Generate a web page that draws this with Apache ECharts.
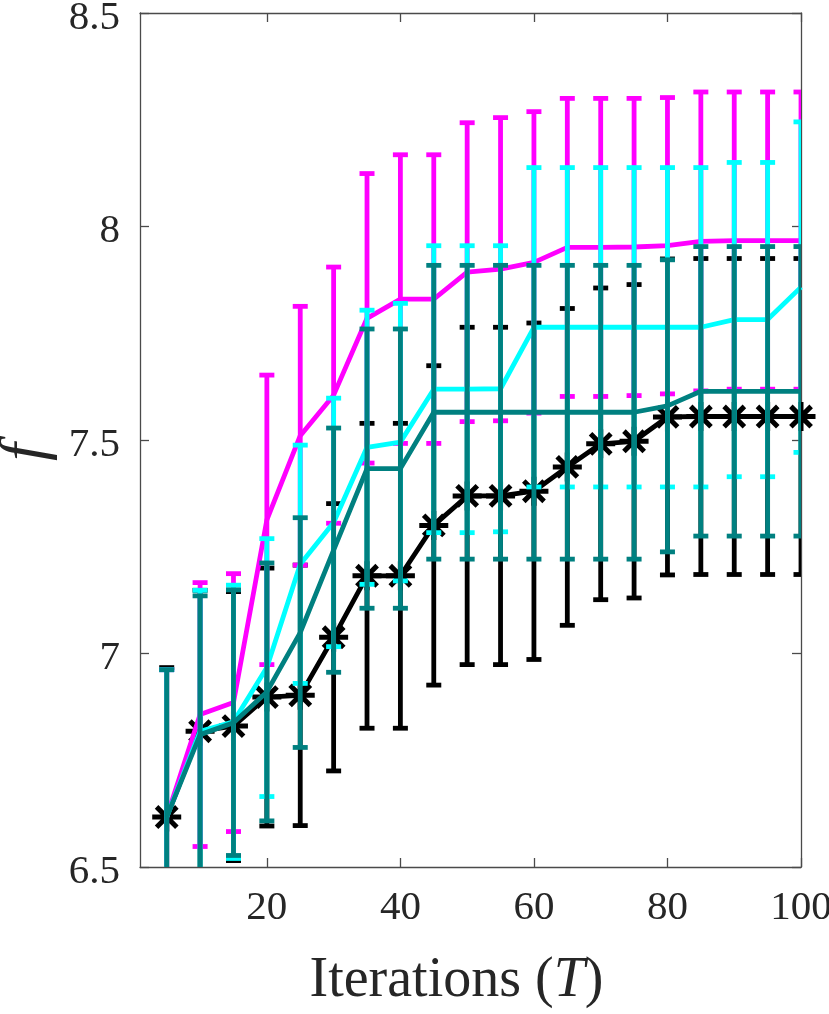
<!DOCTYPE html>
<html>
<head>
<meta charset="utf-8">
<script src="https://cdn.jsdelivr.net/npm/echarts@6/dist/echarts.min.js"></script>
<style>
html,body{margin:0;padding:0;background:#fff;}
#chart{width:829px;height:1014px;}
</style>
</head>
<body>
<div id="chart"></div>
<script>
// ---- data ----
const iterations = [5,10,15,20,25,30,35,40,45,50,55,60,65,70,75,80,85,90,95,100];
const xTicks = [20,40,60,80,100];

const blackMean = [6.617,6.818,6.830,6.898,6.902,7.038,7.182,7.182,7.300,7.369,7.369,7.380,7.437,7.491,7.497,7.554,7.555,7.555,7.555,7.555];
const blackErr  = [0.350,0.330,0.315,0.302,0.305,0.313,0.357,0.357,0.374,0.395,0.395,0.394,0.371,0.365,0.367,0.370,0.370,0.370,0.370,0.370];

const magentaMean = [6.617,6.857,6.885,7.313,7.510,7.605,7.785,7.830,7.830,7.893,7.900,7.916,7.951,7.951,7.952,7.955,7.965,7.967,7.967,7.967];
const magentaErr  = [0.345,0.309,0.302,0.339,0.303,0.300,0.339,0.338,0.338,0.350,0.355,0.353,0.349,0.349,0.348,0.347,0.350,0.348,0.348,0.348];

const cyanMean = [6.617,6.818,6.840,6.967,7.209,7.307,7.483,7.495,7.619,7.619,7.620,7.764,7.764,7.764,7.764,7.764,7.764,7.782,7.782,7.858];
const cyanErr  = [0.345,0.330,0.320,0.302,0.279,0.291,0.321,0.325,0.336,0.336,0.335,0.374,0.374,0.374,0.374,0.374,0.374,0.368,0.368,0.387];

const tealMean = [6.617,6.810,6.838,6.910,7.049,7.242,7.433,7.433,7.565,7.565,7.565,7.565,7.565,7.565,7.565,7.580,7.614,7.614,7.614,7.614];
const tealErr  = [0.345,0.325,0.311,0.302,0.269,0.286,0.327,0.327,0.344,0.344,0.344,0.344,0.344,0.344,0.344,0.342,0.339,0.339,0.339,0.339];

const yTicksMin = 6.5, yTicksMax = 8.5, yStep = 0.5;

// ---- chart ----
const FONT = 'Liberation Serif';
const AX = '#4a4a4a';
const TXT = '#262626';
const LW = 4.8;

function pts(mean){ return iterations.map((x,i)=>[x, mean[i]]); }
function bars(mean, err){ return iterations.map((x,i)=>[x, mean[i]-err[i], mean[i]+err[i]]); }

function errSeries(name, mean, err, color, z){
  return {
    name: name + ' err', type: 'custom', z: z, clip: true, silent: true,
    data: bars(mean, err),
    renderItem: function(params, api){
      const x = api.value(0), lo = api.value(1), hi = api.value(2);
      const a = api.coord([x, lo]), b = api.coord([x, hi]);
      const hw = 7.5, st = {stroke: color, lineWidth: LW, fill: null};
      return {type:'group', children:[
        {type:'line', shape:{x1:a[0], y1:a[1], x2:b[0], y2:b[1]}, style: st},
        {type:'line', shape:{x1:a[0]-hw, y1:a[1], x2:a[0]+hw, y2:a[1]}, style: st},
        {type:'line', shape:{x1:b[0]-hw, y1:b[1], x2:b[0]+hw, y2:b[1]}, style: st}
      ]};
    }
  };
}
function lineSeries(name, mean, color, z, marker){
  const s = {
    name: name, type: 'line', z: z, data: pts(mean), silent: true,
    lineStyle: {color: color, width: LW},
    itemStyle: {color: color},
    symbol: 'none', animation: false
  };
  if (marker){
    s.symbol = 'path://M0,10L20,10M10,0L10,20M3,3L17,17M17,3L3,17';
    s.symbolSize = 29;
    s.showAllSymbol = true;
    s.itemStyle = {color: 'rgba(0,0,0,0)', borderColor: color, borderWidth: 5};
  }
  return s;
}

const chart = echarts.init(document.getElementById('chart'), null, {renderer:'canvas'});
const axisCommon = {
  axisLine: {show: true, onZero: false, lineStyle: {color: AX, width: 1.3}},
  axisTick: {show: true, inside: true, length: 9, lineStyle: {color: AX, width: 1.3}},
  splitLine: {show: false}
};
chart.setOption({
  animation: false,
  backgroundColor: '#fff',
  grid: {left: 140, right: 28, top: 13, bottom: 147, containLabel: false, outerBoundsMode: 'none'},
  xAxis: [
    Object.assign({}, axisCommon, {
      type: 'value', min: 1, max: 100, position: 'bottom',
      name: 'Iterations ({i|T})', nameLocation: 'middle', nameGap: 86,
      nameTextStyle: {fontFamily: FONT, fontSize: 56, color: TXT, padding: [0, 28, 0, 0],
        rich: {i: {fontFamily: FONT, fontSize: 56, fontStyle: 'italic', color: TXT}}},
      axisLabel: {customValues: xTicks, fontFamily: FONT, fontSize: 41, color: TXT, margin: 21},
      axisTick: Object.assign({}, axisCommon.axisTick, {customValues: xTicks})
    }),
    Object.assign({}, axisCommon, {
      type: 'value', min: 1, max: 100, position: 'top',
      axisLabel: {show: false},
      axisTick: Object.assign({}, axisCommon.axisTick, {customValues: xTicks})
    })
  ],
  yAxis: [
    Object.assign({}, axisCommon, {
      type: 'value', min: yTicksMin, max: yTicksMax, interval: yStep, position: 'left',
      name: 'f', nameLocation: 'middle', nameRotate: 90, nameGap: 76,
      nameTextStyle: {fontFamily: FONT, fontSize: 64, fontStyle: 'italic', color: TXT, padding: [0, 24, 0, 0]},
      axisLabel: {fontFamily: FONT, fontSize: 41, color: TXT, margin: 20, verticalAlign: 'top', lineHeight: 10}
    }),
    Object.assign({}, axisCommon, {
      type: 'value', min: yTicksMin, max: yTicksMax, interval: yStep, position: 'right',
      axisLabel: {show: false}
    })
  ],
  series: [
    errSeries('black', blackMean, blackErr, '#000000', 2),
    lineSeries('black', blackMean, '#000000', 2, true),
    errSeries('magenta', magentaMean, magentaErr, '#ff00ff', 3),
    lineSeries('magenta', magentaMean, '#ff00ff', 3, false),
    errSeries('cyan', cyanMean, cyanErr, '#00ffff', 4),
    lineSeries('cyan', cyanMean, '#00ffff', 4, false),
    errSeries('teal', tealMean, tealErr, '#008080', 5),
    lineSeries('teal', tealMean, '#008080', 5, false)
  ]
});
</script>
</body>
</html>
